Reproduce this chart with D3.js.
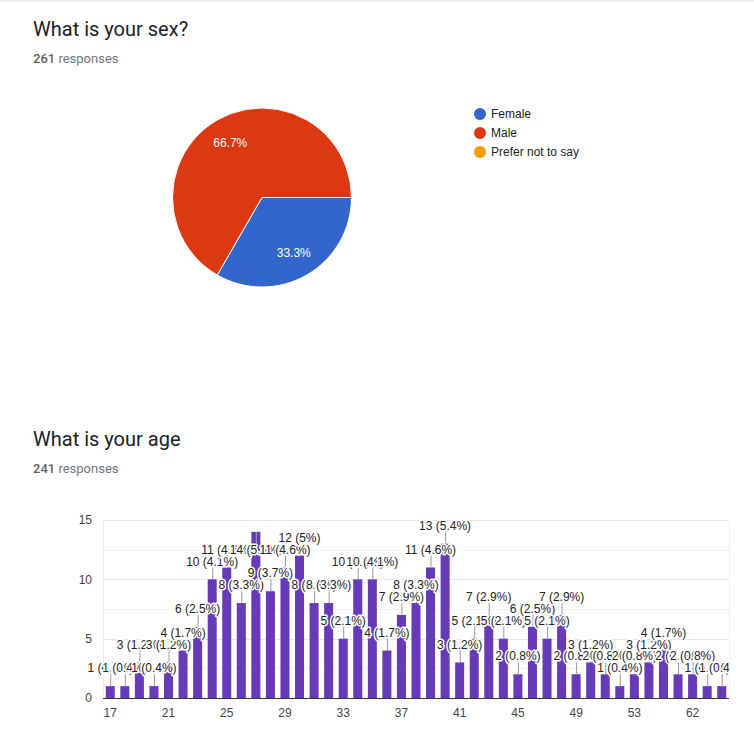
<!DOCTYPE html>
<html>
<head>
<meta charset="utf-8">
<script src="https://cdnjs.cloudflare.com/ajax/libs/d3/7.8.5/d3.min.js"></script>
<style>
  body { margin: 0; background: #fff; }
  svg { display: block; }
</style>
</head>
<body>
<svg id="chart" width="754" height="743"></svg>
<script>
// sex question
const sexLabels = ["Female", "Male", "Prefer not to say"];
const sexCounts = [87, 174, 0];
const sexColors = ["#3366cc", "#dc3912", "#ff9900"];
const sexTotal = 261;

// age question
const ages = ["17", "18", "19", "20", "21", "22", "23", "24", "25", "26", "27", "28", "29", "30",
  "31", "32", "33", "34", "35", "36", "37", "38", "39", "40", "41", "42", "43", "44", "45", "46",
  "47", "48", "49", "50", "51", "52", "53", "54", "55", "56", "62", "63", "65"];
const ageCounts = [1, 1, 3, 1, 3, 4, 6, 10, 11, 8, 14, 9, 11, 12,
  8, 8, 5, 10, 10, 4, 7, 8, 11, 13, 3, 5, 7, 5, 2, 6,
  5, 7, 2, 3, 2, 1, 2, 3, 4, 2, 2, 1, 1];
const ageTotal = 241;
const ageTicks = ["17", "21", "25", "29", "33", "37", "41", "45", "49", "53", "62"];
const yTicks = [0, 5, 10, 15];
const yMinor = [2.5, 7.5, 12.5];

const svg = d3.select("#chart");
const titleFont = "Roboto, 'Noto Sans', sans-serif";
const chartFont = "'Liberation Sans', Arial, sans-serif";

// thin grey strip at the very top of the screenshot
svg.append("rect").attr("x", 0).attr("y", 0).attr("width", 754).attr("height", 2).attr("fill", "#eeeeee");

function header(yTitle, title, count) {
  svg.append("text")
    .attr("x", 33).attr("y", yTitle)
    .attr("font-family", titleFont).attr("font-size", 20)
    .attr("fill", "#202124")
    .text(title);
  const t = svg.append("text")
    .attr("x", 33).attr("y", yTitle + 27)
    .attr("font-family", titleFont).attr("font-size", 13)
    .attr("fill", "#70757a");
  t.append("tspan").attr("font-weight", 500).attr("fill", "#5f6368").text(count);
  t.append("tspan").text(" responses");
}

header(36, "What is your sex?", sexTotal);
header(446, "What is your age", ageTotal);

// ---- pie ----
const pie = d3.pie().sort(null)
  .startAngle(Math.PI / 2)
  .endAngle(Math.PI / 2 + 2 * Math.PI);
const arcs = pie(sexCounts);
const R = 89.5;
const arc = d3.arc().innerRadius(0).outerRadius(R);
const labelArc = d3.arc().innerRadius(R * 0.71).outerRadius(R * 0.71);

const pg = svg.append("g").attr("transform", "translate(262,197.5)");
pg.selectAll("path")
  .data(arcs.filter(d => d.value > 0))
  .enter().append("path")
  .attr("d", arc)
  .attr("fill", d => sexColors[d.index])
  .attr("stroke", "#fff")
  .attr("stroke-width", 1);

pg.selectAll("text")
  .data(arcs.filter(d => d.value > 0))
  .enter().append("text")
  .attr("transform", d => "translate(" + labelArc.centroid(d) + ")")
  .attr("text-anchor", "middle")
  .attr("dy", "0.35em")
  .attr("font-family", chartFont).attr("font-size", 12)
  .attr("fill", "#fff")
  .text(d => (d.value / sexTotal * 100).toFixed(1) + "%");

// legend
const lg = svg.append("g").selectAll("g")
  .data(sexLabels)
  .enter().append("g")
  .attr("transform", (d, i) => "translate(480," + (114 + i * 19) + ")");
lg.append("circle").attr("r", 6).attr("fill", (d, i) => sexColors[i]);
lg.append("text")
  .attr("x", 11).attr("dy", "0.35em")
  .attr("font-family", chartFont).attr("font-size", 12)
  .attr("fill", "#222")
  .text(d => d);

// ---- bar chart ----
const plotL = 103, plotR = 729, plotT = 520, plotB = 698;
const x = d3.scaleBand().domain(ages).range([plotL, plotR]).paddingInner(0.38).paddingOuter(0.19);
const y = d3.scaleLinear().domain([0, 15]).range([plotB, plotT]);

const grid = svg.append("g");
grid.selectAll(".minor")
  .data(yMinor).enter().append("line")
  .attr("x1", plotL).attr("x2", plotR)
  .attr("y1", d => Math.round(y(d)) + 0.5).attr("y2", d => Math.round(y(d)) + 0.5)
  .attr("stroke", "#f3f3f3");
grid.selectAll(".major")
  .data(yTicks.filter(d => d > 0)).enter().append("line")
  .attr("x1", plotL).attr("x2", plotR)
  .attr("y1", d => Math.round(y(d)) + 0.5).attr("y2", d => Math.round(y(d)) + 0.5)
  .attr("stroke", "#e6e6e6");
[plotL, plotR].forEach(xx => {
  grid.append("line")
    .attr("x1", xx + 0.5).attr("x2", xx + 0.5)
    .attr("y1", plotT).attr("y2", plotB)
    .attr("stroke", "#efefef");
});

const yAxis = svg.append("g")
  .attr("transform", "translate(" + plotL + ",0)")
  .call(d3.axisLeft(y).tickValues(yTicks).tickSize(0).tickPadding(11));
yAxis.select(".domain").remove();
yAxis.selectAll("text")
  .attr("font-family", chartFont).attr("font-size", 12).attr("fill", "#444");

const xAxis = svg.append("g")
  .attr("transform", "translate(0," + plotB + ")")
  .call(d3.axisBottom(x).tickValues(ageTicks).tickSize(0).tickPadding(10));
xAxis.select(".domain").remove();
xAxis.selectAll("text")
  .attr("font-family", chartFont).attr("font-size", 12).attr("fill", "#444");

svg.append("g").selectAll("rect")
  .data(ages)
  .enter().append("rect")
  .attr("x", d => x(d))
  .attr("y", (d, i) => y(ageCounts[i]))
  .attr("width", x.bandwidth())
  .attr("height", (d, i) => plotB - y(ageCounts[i]))
  .attr("fill", "#673ab7");

svg.append("line")
  .attr("x1", plotL).attr("x2", plotR)
  .attr("y1", plotB + 0.5).attr("y2", plotB + 0.5)
  .attr("stroke", "#333");

// annotations: "count (pct%)" above each bar, inside if no room
svg.append("clipPath").attr("id", "annClip")
  .append("rect").attr("x", 0).attr("y", 480).attr("width", plotR).attr("height", 240);

const fmtPct = v => +(v / ageTotal * 100).toFixed(1) + "%";
const ann = ages.map((a, i) => {
  const t = y(ageCounts[i]);
  const inside = t - 24 < plotT - 1;
  return { age: a, v: ageCounts[i], t: t, inside: inside, cy: inside ? t + 18 : t - 18 };
});

const annG = svg.append("g").attr("clip-path", "url(#annClip)");
annG.selectAll("line")
  .data(ann).enter().append("line")
  .attr("x1", d => x(d.age) + x.bandwidth() / 2 + 0.5)
  .attr("x2", d => x(d.age) + x.bandwidth() / 2 + 0.5)
  .attr("y1", d => d.t)
  .attr("y2", d => d.inside ? d.t + 12 : d.t - 12)
  .attr("stroke", "#999");
annG.selectAll("text")
  .data(ann).enter().append("text")
  .attr("x", d => x(d.age) + x.bandwidth() / 2)
  .attr("y", d => d.cy)
  .attr("dy", "0.35em")
  .attr("text-anchor", "middle")
  .attr("font-family", chartFont).attr("font-size", 12)
  .attr("fill", "#222")
  .attr("stroke", "#fff").attr("stroke-width", 3)
  .attr("stroke-linejoin", "round")
  .attr("paint-order", "stroke")
  .text(d => d.v + " (" + fmtPct(d.v) + ")");
</script>
</body>
</html>
